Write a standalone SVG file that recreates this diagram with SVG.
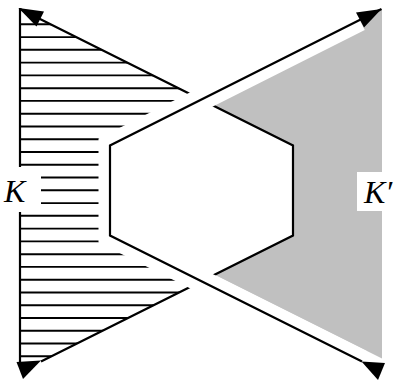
<svg xmlns="http://www.w3.org/2000/svg" width="396" height="381" viewBox="0 0 396 381">
  <defs>
    <style>
      .ln { fill: none; stroke: #000; stroke-width: 2.2; stroke-linejoin: miter; stroke-miterlimit: 10; }
      .halo { fill: none; stroke: #fff; stroke-width: 23; stroke-linejoin: miter; stroke-miterlimit: 10; stroke-linecap: butt; }
      .hatch line { stroke: #000; stroke-width: 1.9; }
      .head { fill: #000; }
      .lbl { font-family: "Liberation Serif", "Times New Roman", serif; font-style: italic; font-size: 32px; fill: #000; }
    </style>
    <clipPath id="kclip">
      <polygon points="20,9 201,99.5 110,145.5 110,235.5 201,281.5 20,372"/>
    </clipPath>
  </defs>

  <g id="Kprime-region">
    <polygon points="201,99.5 382,9 382,358.5 214,274.5 293,235.5 293,145.5" fill="#c0c0c0"/>
  </g>

  <g id="K-region">
    <g class="hatch" clip-path="url(#kclip)">
      <line x1="20" y1="24.3" x2="300" y2="24.3"/>
      <line x1="20" y1="37.1" x2="300" y2="37.1"/>
      <line x1="20" y1="49.8" x2="300" y2="49.8"/>
      <line x1="20" y1="62.6" x2="300" y2="62.6"/>
      <line x1="20" y1="75.4" x2="300" y2="75.4"/>
      <line x1="20" y1="88.2" x2="300" y2="88.2"/>
      <line x1="20" y1="100.9" x2="300" y2="100.9"/>
      <line x1="20" y1="113.7" x2="300" y2="113.7"/>
      <line x1="20" y1="126.5" x2="300" y2="126.5"/>
      <line x1="20" y1="139.2" x2="300" y2="139.2"/>
      <line x1="20" y1="152.0" x2="300" y2="152.0"/>
      <line x1="20" y1="164.8" x2="300" y2="164.8"/>
      <line x1="20" y1="177.5" x2="300" y2="177.5"/>
      <line x1="20" y1="190.3" x2="300" y2="190.3"/>
      <line x1="20" y1="203.1" x2="300" y2="203.1"/>
      <line x1="20" y1="215.8" x2="300" y2="215.8"/>
      <line x1="20" y1="228.6" x2="300" y2="228.6"/>
      <line x1="20" y1="241.4" x2="300" y2="241.4"/>
      <line x1="20" y1="254.2" x2="300" y2="254.2"/>
      <line x1="20" y1="266.9" x2="300" y2="266.9"/>
      <line x1="20" y1="279.7" x2="300" y2="279.7"/>
      <line x1="20" y1="292.5" x2="300" y2="292.5"/>
      <line x1="20" y1="305.2" x2="300" y2="305.2"/>
      <line x1="20" y1="318.0" x2="300" y2="318.0"/>
      <line x1="20" y1="330.8" x2="300" y2="330.8"/>
      <line x1="20" y1="343.5" x2="300" y2="343.5"/>
      <line x1="20" y1="356.3" x2="300" y2="356.3"/>
    </g>
    <line x1="20" y1="8" x2="20" y2="364" stroke="#000" stroke-width="2.2"/>
  </g>

  <g id="connectors">
    <path id="pathA" class="ln" d="M 20 9 L 293 145.5 L 293 235.5 L 41 361.5"/>
    <path class="halo" d="M 359.6 19.8 L 110 145.5 L 110 235.5 L 362 361.5"/>
    <path id="pathB" class="ln" d="M 381.5 9 L 110 145.5 L 110 235.5 L 362 361.5"/>
    <polygon class="head" points="18.5,8 44,11.5 36.5,26.5"/>
    <polygon class="head" points="381.5,9 356,12.5 364,27.5"/>
    <polygon class="head" points="16.5,362 41,360.5 23,379"/>
    <polygon class="head" points="361.5,361.5 385,363 378,380"/>
  </g>

  <g id="label-K">
    <rect x="0" y="167" width="41" height="45" fill="#fff"/>
    <text class="lbl" x="4" y="201.5">K</text>
  </g>
  <g id="label-Kprime">
    <rect x="357" y="172" width="45" height="39" fill="#fff"/>
    <text class="lbl" x="364" y="202.5">K′</text>
  </g>
</svg>
